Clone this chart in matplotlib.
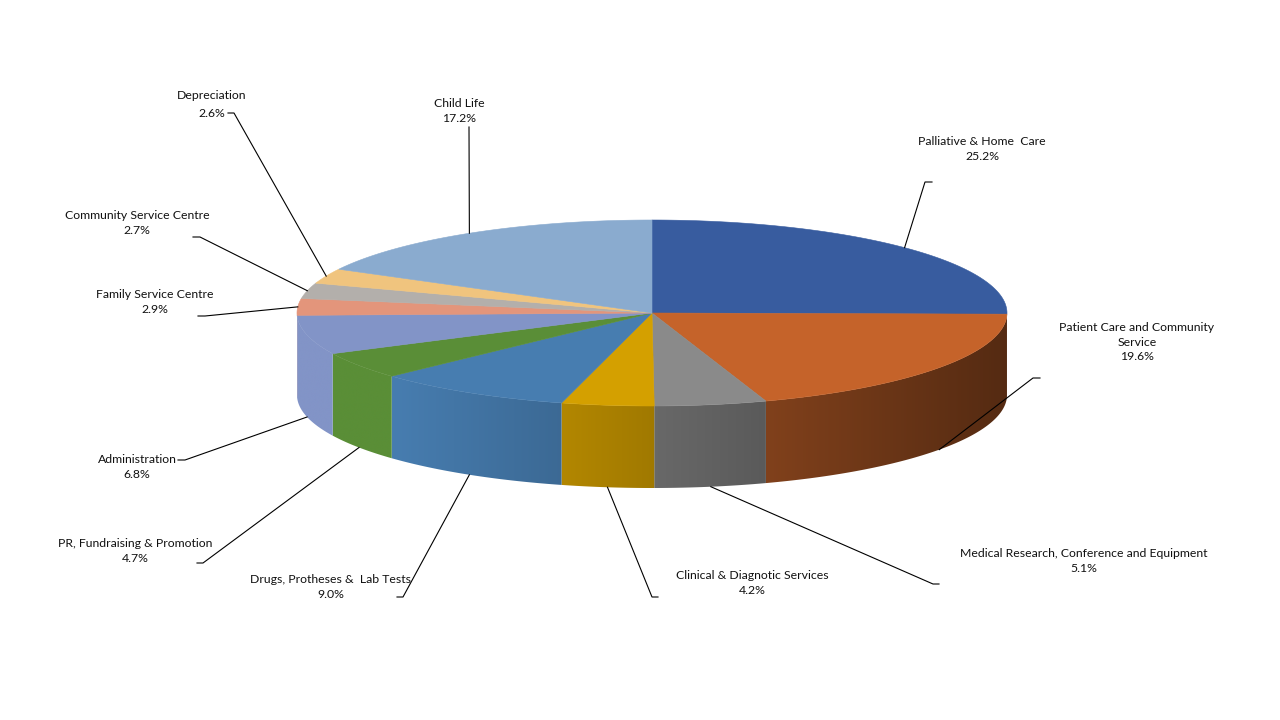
import numpy as np
import matplotlib.pyplot as plt
from matplotlib.patches import Polygon
from matplotlib.colors import to_rgb

# data (clockwise from 12 o'clock)
names = ["Palliative & Home  Care", "Patient Care and Community\nService",
         "Medical Research, Conference and Equipment", "Clinical & Diagnotic Services",
         "Drugs, Protheses &  Lab Tests", "PR, Fundraising & Promotion",
         "Administration", "Family Service Centre", "Community Service Centre",
         "Depreciation", "Child Life"]
shares = [25.2, 19.6, 5.1, 4.2, 9.0, 4.7, 6.8, 2.9, 2.7, 2.6, 17.2]
colors = ["#385C9F", "#C5632A", "#8A8A8A", "#D4A000", "#477DB0", "#5A8E37",
          "#8294C7", "#E3957B", "#B3AFAB", "#F0C47E", "#8AABCF"]

# layout, in pixels of the 1280x720 image
cx, cy, rx, ry, depth = 652, 313, 355, 93, 82
label_xy = [(982, 149), (1137, 342), (1084, 561), (752, 583), (331, 587),
            (135, 551), (137, 467), (155, 302), (137, 223), (212, 104.5), (459, 111)]
label_ls = [1.35] * 9 + [1.78, 1.35]
elbow = [(925, 182), (1033, 378), (933, 584), (652, 597), (403, 597),
         (203, 563), (185, 460), (205, 316), (200, 237), (234, 113), (469, 127)]
tick_end = [932, 1040, 939, 658, 397, 197, 178, 198, 193, 228, 469]


def pt(theta, dy=0.0):
    t = np.radians(theta)
    return cx + rx * np.sin(t), cy - ry * np.cos(t) + dy


def shade(x):
    nx = (x - cx) / rx
    return np.minimum(1.0, 1 - 0.33 * (nx + 0.73))


fig = plt.figure(figsize=(12.8, 7.2), dpi=100)
ax = fig.add_axes([0, 0, 1, 1])
ax.set_xlim(0, 1280)
ax.set_ylim(720, 0)
ax.axis("off")

edges = np.concatenate([[0], np.cumsum(shares)]) * 3.6
edges[-1] = 360.0

# side walls (front half only), shaded left to right
for i in range(len(shares)):
    a0, a1 = max(edges[i], 90), min(edges[i + 1], 270)
    if a1 <= a0:
        continue
    arc = np.linspace(a0, a1, 200)
    xs, ys = pt(arc)
    verts = list(zip(xs, ys)) + list(zip(xs[::-1], ys[::-1] + depth))
    wall = Polygon(verts, closed=True, facecolor="none", edgecolor="none",
                   transform=ax.transData)
    ax.add_patch(wall)
    x_lo, x_hi = xs.min() - 1, xs.max() + 1
    gx = np.linspace(x_lo, x_hi, 300)
    base = np.array(to_rgb(colors[i]))
    img = np.clip(base[None, None, :] * shade(gx)[None, :, None], 0, 1)
    im = ax.imshow(img, extent=(x_lo, x_hi, ys.max() + depth + 1, ys.min() - 1),
                   aspect="auto", interpolation="bilinear", zorder=1)
    im.set_clip_path(wall)

# top faces
for i in range(len(shares)):
    arc = np.linspace(edges[i], edges[i + 1], 120)
    xs, ys = pt(arc)
    verts = [(cx, cy)] + list(zip(xs, ys))
    ax.add_patch(Polygon(verts, closed=True, facecolor=colors[i],
                         edgecolor=colors[i], lw=0.4, zorder=2))

ax.set_xlim(0, 1280)
ax.set_ylim(720, 0)

# labels and leader lines
for i, name in enumerate(names):
    mid = (edges[i] + edges[i + 1]) / 2
    front = 90 < mid < 270
    axp, ayp = pt(mid, depth if front else 0)
    ex, ey = elbow[i]
    ax.plot([axp, ex, tick_end[i]], [ayp, ey, ey], color="black", lw=0.8,
            solid_joinstyle="miter", zorder=3)
    lx, ly = label_xy[i]
    ax.text(lx, ly, f"{name}\n{shares[i]:.1f}%", ha="center", va="center",
            multialignment="center", fontsize=8.8, family="Lato",
            linespacing=label_ls[i], color="#111111")

fig.savefig("out.png", dpi=100)
